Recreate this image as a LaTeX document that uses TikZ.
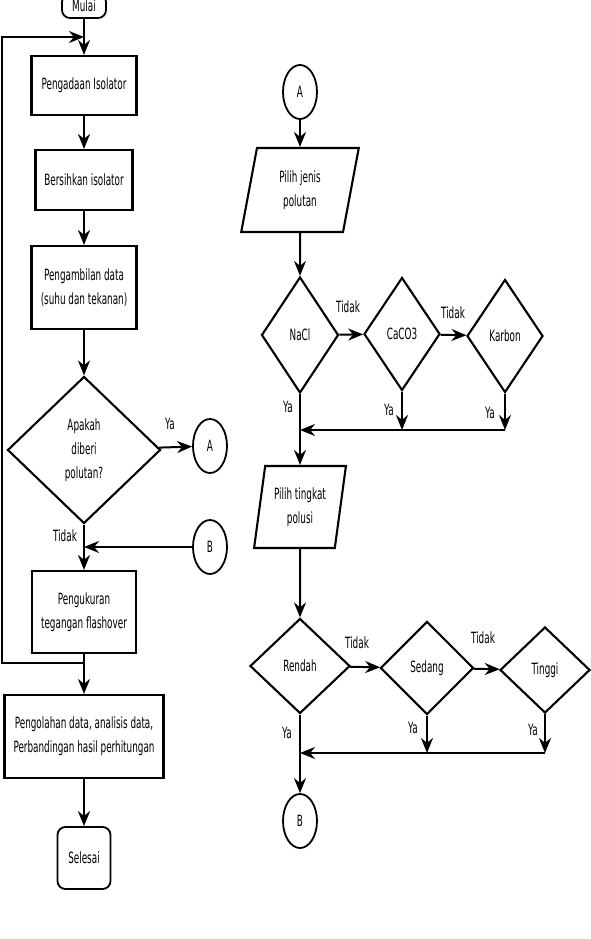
\documentclass[tikz,border=0pt]{standalone}
\usepackage{fontspec}
\setmainfont{DejaVu Sans}[FakeStretch=0.57]
\usetikzlibrary{arrows.meta,positioning,shapes.geometric,calc}

\begin{document}
\begin{tikzpicture}[
  x=1pt, y=-1pt,
  font=\fontsize{15.5}{24}\selectfont,
  box/.style={draw, line width=2.1pt, align=center, inner sep=2pt},
  term/.style={draw, line width=1.8pt, rounded corners=8pt, align=center},
  dec/.style={draw, diamond, aspect=1, line width=2.1pt, inner sep=0pt, align=center},
  io/.style={draw, trapezium, trapezium left angle=79, trapezium right angle=101,
    trapezium stretches=true, line width=2.1pt, inner sep=0pt, align=center},
  conn/.style={draw, ellipse, line width=1.8pt, minimum width=34pt, minimum height=54pt, inner sep=0pt},
  arr/.style={-{Stealth[length=15pt, width=12pt]}, line width=2pt},
  lbl/.style={inner sep=1pt}
]
\useasboundingbox (0,0) rectangle (591,939);
\clip (0,0) rectangle (591,939);

% left column
\node[term, minimum width=44pt, minimum height=24pt] (mulai) at (84,6) {Mulai};
\node[box, minimum width=105pt, minimum height=59pt] (adakan) at (84,85.5) {Pengadaan Isolator};
\node[box, minimum width=97pt, minimum height=60pt] (bersih) at (84,180) {Bersihkan isolator};
\node[box, minimum width=105pt, minimum height=83pt] (ambil) at (84,287.5) {Pengambilan data\\(suhu dan tekanan)};
\node[dec, minimum width=153pt, minimum height=147pt] (tanya) at (84,450) {Apakah\\diberi\\polutan?};
\node[box, minimum width=104pt, minimum height=82pt] (ukur) at (84,612) {Pengukuran\\tegangan flashover};
\node[box, minimum width=159pt, minimum height=83pt] (olah) at (84,736.5) {Pengolahan data, analisis data,\\Perbandingan hasil perhitungan};
\node[term, minimum width=53pt, minimum height=62pt] (selesai) at (84,858) {Selesai};
\node[conn] (keA) at (210,446) {A};
\node[conn] (dariB) at (210,547) {B};

\coordinate (masuk) at (84,37);
\coordinate (gabungB) at (84,547);
\coordinate (cabang) at (84,663);
\coordinate (kiriBawah) at (2,663);
\coordinate (kiriAtas) at (2,37);

\draw[arr] (mulai) -- (adakan);
\draw[arr] (adakan) -- (bersih);
\draw[arr] (bersih) -- (ambil);
\draw[arr] (ambil) -- (tanya);
\draw[arr] (tanya) -- (ukur);
\draw[arr] (tanya) -- (keA);
\draw[arr] (dariB) -- (gabungB);
\draw[arr] (ukur) -- (olah);
\draw[arr] (cabang) -- (kiriBawah) -- (kiriAtas) -- (masuk);
\draw[arr] (olah) -- (selesai);
\node[lbl] (yaA) at (170,424) {Ya};
\node[lbl] (tidakB) at (65,536) {Tidak};

% right column: jenis polutan
\node[conn] (mulaiA) at (300,92) {A};
\node[io, minimum width=118pt, minimum height=84pt] (jenis) at (300,190) {Pilih jenis\\polutan};
\node[dec, minimum width=77pt, minimum height=116pt] (nacl) at (300,335) {NaCl};
\node[dec, minimum width=76pt, minimum height=113pt] (caco) at (402,334) {CaCO3};
\node[dec, minimum width=76pt, minimum height=113pt] (karbon) at (505,336) {Karbon};

\coordinate (gab1) at (300,430);
\coordinate (ujung2) at (402,430);
\coordinate (ujung3) at (505,430);

\draw[arr] (mulaiA) -- (jenis);
\draw[arr] (jenis) -- (nacl);
\draw[arr] (nacl) -- (caco);
\draw[arr] (caco) -- (karbon);
\draw[arr] (caco) -- (ujung2);
\draw[arr] (karbon) -- (ujung3);
\draw[arr] (ujung3) -- (gab1);
\node[lbl] (tidak1) at (348,307) {Tidak};
\node[lbl] (tidak2) at (453,313) {Tidak};
\node[lbl] (ya1) at (288,407) {Ya};
\node[lbl] (ya2) at (389,410) {Ya};
\node[lbl] (ya3) at (490,413) {Ya};

% right column: tingkat polusi
\node[io, minimum width=92pt, minimum height=82pt, trapezium left angle=78, trapezium right angle=102] (tingkat) at (300,507) {Pilih tingkat\\polusi};
\node[dec, minimum width=100pt, minimum height=95pt] (rendah) at (300,666) {Rendah};
\node[dec, minimum width=93pt, minimum height=93pt] (sedang) at (427,668) {Sedang};
\node[dec, minimum width=90pt, minimum height=86pt] (tinggi) at (545,670) {Tinggi};
\node[conn] (keB) at (300,821) {B};

\coordinate (gab2) at (300,753);
\coordinate (ujung5) at (427,753);
\coordinate (ujung6) at (545,753);

\draw[arr] (nacl) -- (tingkat);
\draw[arr] (tingkat) -- (rendah);
\draw[arr] (rendah) -- (sedang);
\draw[arr] (sedang) -- (tinggi);
\draw[arr] (sedang) -- (ujung5);
\draw[arr] (tinggi) -- (ujung6);
\draw[arr] (ujung6) -- (gab2);
\draw[arr] (rendah) -- (keB);
\node[lbl] (tidak3) at (357,643) {Tidak};
\node[lbl] (tidak4) at (483,638) {Tidak};
\node[lbl] (ya4) at (287,733) {Ya};
\node[lbl] (ya5) at (413,728) {Ya};
\node[lbl] (ya6) at (533,730) {Ya};
\end{tikzpicture}
\end{document}
